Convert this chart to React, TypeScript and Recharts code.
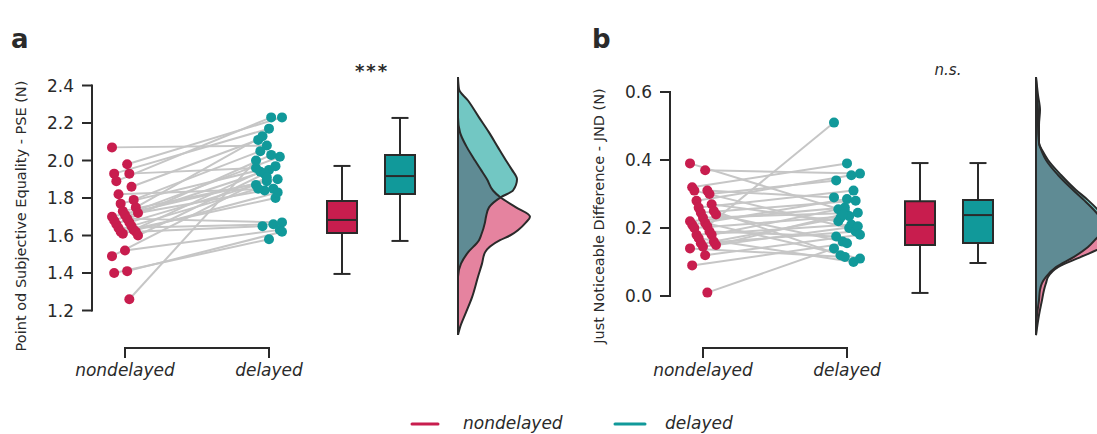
import React from "react";
import {
  ComposedChart,
  Scatter,
  XAxis,
  YAxis,
  ReferenceLine,
  ReferenceArea,
  Curve,
} from "recharts";

const groups = ["nondelayed", "delayed"];

// a) point of subjective equality, one pair per participant
const pseNondelayed = [
  2.07, 1.98, 1.93, 1.93, 1.89, 1.86, 1.82, 1.79, 1.77, 1.75, 1.73, 1.72, 1.71, 1.7, 1.69,
  1.68, 1.67, 1.66, 1.65, 1.64, 1.63, 1.62, 1.62, 1.61, 1.6, 1.52, 1.49, 1.41, 1.4, 1.26,
];
const pseDelayed = [
  2.08, 2.23, 2.17, 1.96, 2.23, 2.11, 1.85, 2.05, 1.97, 2.13, 1.9, 1.84, 2.02, 1.89, 1.67,
  1.95, 1.87, 2.03, 1.85, 1.66, 1.94, 1.8, 1.65, 1.83, 1.93, 1.63, 1.91, 1.62, 1.58, 2.0,
];
const pseTicks = [1.2, 1.4, 1.6, 1.8, 2.0, 2.2, 2.4];
// [lower whisker, Q1, median, Q3, upper whisker]
const pseBoxNondelayed = [1.395, 1.613, 1.683, 1.784, 1.971];
const pseBoxDelayed = [1.571, 1.821, 1.917, 2.029, 2.227];
// density (arbitrary units) sampled at these PSE values
const pseDensityAt = [
  2.445, 2.38, 2.32, 2.23, 2.15, 2.07, 2.0, 1.95, 1.9, 1.84, 1.805, 1.75, 1.7, 1.67, 1.6,
  1.575, 1.51, 1.45, 1.38, 1.27, 1.19, 1.11, 1.07,
];
const pseDensityNondelayed = [
  0, 0, 0, 0, 2, 9, 17, 23, 29, 35, 42, 58, 72, 68, 52, 42, 27, 24, 20, 14, 8, 2, 0,
];
const pseDensityDelayed = [
  0, 1, 10, 21, 31, 40, 48, 54, 59, 55, 43, 31, 28, 27, 23, 21, 10, 3, 0, 0, 0, 0, 0,
];

// b) just noticeable difference
const jndNondelayed = [
  0.39, 0.37, 0.32, 0.31, 0.31, 0.3, 0.28, 0.27, 0.26, 0.25, 0.245, 0.24, 0.23, 0.22, 0.215,
  0.21, 0.205, 0.2, 0.19, 0.18, 0.18, 0.17, 0.16, 0.155, 0.15, 0.145, 0.14, 0.12, 0.09, 0.01,
];
const jndDelayed = [
  0.25, 0.36, 0.39, 0.29, 0.2, 0.34, 0.355, 0.22, 0.31, 0.12, 0.28, 0.16, 0.245, 0.26, 0.11,
  0.285, 0.51, 0.235, 0.175, 0.21, 0.255, 0.1, 0.23, 0.19, 0.24, 0.205, 0.115, 0.18, 0.155, 0.14,
];
const jndTicks = [0.0, 0.2, 0.4, 0.6];
const jndBoxNondelayed = [0.009, 0.15, 0.209, 0.279, 0.391];
const jndBoxDelayed = [0.097, 0.156, 0.238, 0.282, 0.391];
const jndDensityAt = [
  0.644, 0.591, 0.547, 0.503, 0.45, 0.424, 0.4, 0.356, 0.312, 0.282, 0.253, 0.224, 0.194,
  0.174, 0.144, 0.115, 0.085, 0.056, 0.038, 0.018, -0.012, -0.056, -0.115,
];
const jndDensityNondelayed = [
  0, 1, 2, 2, 3, 6, 10, 22, 37, 48, 58, 66, 72, 72, 66, 45, 22, 12, 10, 8, 6, 3, 0,
];
const jndDensityDelayed = [
  0, 2, 4, 3, 3, 7, 12, 25, 40, 52, 62, 69, 70, 62, 52, 38, 20, 10, 6, 4, 3, 1, 0,
];

const RED = "#C81D4E";
const TEAL = "#11999A";
const PINK = "#E5839F";
const LIGHT_TEAL = "#72C7C3";
const OVERLAP = "#5F8B94";
const GRAY = "#C6C6C6";
const INK = "#2a2a2a";
const FONT = '"DejaVu Sans", sans-serif';

// layout (x units = pixels right of the y axis line)
const CHART_W = 560;
const CHART_H = 434;
const AXIS_X = 92; // pixel column of the y axis line
const X_PAD = 2;
const PLOT_TOP = 70;
const PLOT_BOTTOM = 362;
const BRACKET_PX = 348;
const BRACKET_TICK = 10;
const X_AXIS_H = 50;
const GROUP_X = [33, 177];
const BOX_X = [250, 308];
const BOX_HALF = 15;
const CAP_HALF = 8.5;
const VIOLIN_X = 366;
const JITTER = 13;
const PANEL_LEFT = [0, 578];
const PSE_TICK_PX: [number, number] = [310.5, 85.5];
const JND_TICK_PX: [number, number] = [296, 92];

const jitter = (i: number, k: number) => (((i * 7 + k * 5) % 13) / 6 - 1) * JITTER;

const fillCurve = (fill: string) => (props: any) => (
  <Curve points={props.points} type="monotoneY" fill={fill} stroke="none" />
);
const strokeCurve = (props: any) => (
  <Curve points={props.points} type="monotoneY" fill="none" stroke={INK} strokeWidth={2} />
);
const noDot = () => <g />;
const inkLine = { stroke: INK, strokeWidth: 2 };
const tickFont = { fill: INK, fontSize: 17, fontFamily: FONT };
const layer: React.CSSProperties = { position: "absolute", left: 0, top: 0, pointerEvents: "none" };

type PanelProps = {
  left: number;
  ticks: number[];
  tickPx: [number, number];
  yLabel: string;
  nond: number[];
  del: number[];
  boxN: number[];
  boxD: number[];
  densAt: number[];
  densN: number[];
  densD: number[];
};

// y ticks on a plot area that spans exactly first..last tick
function TrimmedYAxis({ ticks, tickPx }: { ticks: number[]; tickPx: [number, number] }) {
  const t0 = ticks[0];
  const t1 = ticks[ticks.length - 1];
  return (
    <div style={layer}>
      <ComposedChart
        width={AXIS_X + 10}
        height={CHART_H}
        margin={{ top: tickPx[1], bottom: CHART_H - tickPx[0], left: 0, right: 0 }}
      >
        <XAxis type="number" dataKey="x" domain={[0, 1]} hide />
        <YAxis
          type="number"
          dataKey="y"
          domain={[t0, t1]}
          ticks={ticks}
          interval={0}
          width={AXIS_X}
          axisLine={inkLine}
          tickSize={10}
          tickMargin={8}
          tickLine={inkLine}
          tick={tickFont}
          tickFormatter={(v) => Number(v).toFixed(1)}
        />
        <Scatter data={[{ x: 0.5, y: t0 }]} shape={noDot} isAnimationActive={false} />
      </ComposedChart>
    </div>
  );
}

// category labels under the bracket
function GroupBracket() {
  const leftPx = AXIS_X + GROUP_X[0];
  const rightPx = AXIS_X + GROUP_X[1];
  return (
    <div style={layer}>
      <ComposedChart
        width={CHART_W}
        height={CHART_H}
        margin={{ top: PLOT_TOP, bottom: CHART_H - BRACKET_PX - X_AXIS_H, left: leftPx, right: CHART_W - rightPx }}
      >
        <XAxis
          type="number"
          dataKey="x"
          domain={[GROUP_X[0], GROUP_X[1]]}
          ticks={GROUP_X}
          interval={0}
          height={X_AXIS_H}
          axisLine={inkLine}
          tickSize={BRACKET_TICK}
          tickMargin={6}
          tickLine={inkLine}
          tick={{ ...tickFont, fontStyle: "italic" }}
          tickFormatter={(v) => groups[GROUP_X.indexOf(v)] ?? ""}
        />
        <YAxis type="number" dataKey="y" domain={[0, 1]} hide />
        <Scatter
          data={GROUP_X.map((x) => ({ x, y: 0.5 }))}
          shape={noDot}
          isAnimationActive={false}
        />
      </ComposedChart>
    </div>
  );
}

function Panel(p: PanelProps) {
  const yAxisW = AXIS_X - X_PAD;
  const plotW = CHART_W - yAxisW;
  const t0 = p.ticks[0];
  const t1 = p.ticks[p.ticks.length - 1];
  const pxPerUnit = (p.tickPx[0] - p.tickPx[1]) / (t1 - t0);
  const yHi = t1 + (p.tickPx[1] - PLOT_TOP) / pxPerUnit;
  const yLo = t0 - (PLOT_BOTTOM - p.tickPx[0]) / pxPerUnit;

  const overlap = p.densN.map((d, i) => Math.min(d, p.densD[i]));
  const curve = (dens: number[]) => p.densAt.map((y, i) => ({ x: VIOLIN_X + dens[i], y }));

  const refLine = { ...inkLine, ifOverflow: "visible" as const };
  const boxes = [
    { cx: BOX_X[0], s: p.boxN, fill: RED },
    { cx: BOX_X[1], s: p.boxD, fill: TEAL },
  ];

  return (
    <div style={{ position: "absolute", left: p.left, top: 0, width: CHART_W, height: CHART_H }}>
      <ComposedChart
        width={CHART_W}
        height={CHART_H}
        margin={{ top: PLOT_TOP, right: 0, left: 0, bottom: CHART_H - PLOT_BOTTOM }}
      >
        <XAxis type="number" dataKey="x" domain={[-X_PAD, plotW - X_PAD]} hide />
        <YAxis
          type="number"
          dataKey="y"
          domain={[yLo, yHi]}
          width={yAxisW}
          axisLine={false}
          tickLine={false}
          tick={false}
          label={{
            value: p.yLabel,
            angle: -90,
            position: "insideLeft",
            offset: 21,
            style: { textAnchor: "middle", fontSize: 14.5, fill: INK, fontFamily: FONT },
          }}
        />

        {/* paired lines */}
        {p.nond.map((v, i) => (
          <Scatter
            key={`pair-${i}`}
            data={[
              { x: GROUP_X[0] + jitter(i, 0), y: v },
              { x: GROUP_X[1] + jitter(i, 1), y: p.del[i] },
            ]}
            line={{ stroke: GRAY, strokeWidth: 2 }}
            shape={noDot}
            isAnimationActive={false}
          />
        ))}
        <Scatter
          data={p.nond.map((y, i) => ({ x: GROUP_X[0] + jitter(i, 0), y }))}
          shape={(s: any) => <circle cx={s.cx} cy={s.cy} r={5} fill={RED} />}
          isAnimationActive={false}
        />
        <Scatter
          data={p.del.map((y, i) => ({ x: GROUP_X[1] + jitter(i, 1), y }))}
          shape={(s: any) => <circle cx={s.cx} cy={s.cy} r={5} fill={TEAL} />}
          isAnimationActive={false}
        />

        {/* box plots */}
        {boxes.map((b, k) => (
          <ReferenceLine
            key={`wu-${k}`}
            segment={[{ x: b.cx, y: b.s[3] }, { x: b.cx, y: b.s[4] }]}
            {...refLine}
          />
        ))}
        {boxes.map((b, k) => (
          <ReferenceLine
            key={`wl-${k}`}
            segment={[{ x: b.cx, y: b.s[0] }, { x: b.cx, y: b.s[1] }]}
            {...refLine}
          />
        ))}
        {boxes.map((b, k) => (
          <ReferenceLine
            key={`cu-${k}`}
            segment={[{ x: b.cx - CAP_HALF, y: b.s[4] }, { x: b.cx + CAP_HALF, y: b.s[4] }]}
            {...refLine}
          />
        ))}
        {boxes.map((b, k) => (
          <ReferenceLine
            key={`cl-${k}`}
            segment={[{ x: b.cx - CAP_HALF, y: b.s[0] }, { x: b.cx + CAP_HALF, y: b.s[0] }]}
            {...refLine}
          />
        ))}
        {boxes.map((b, k) => (
          <ReferenceArea
            key={`box-${k}`}
            x1={b.cx - BOX_HALF}
            x2={b.cx + BOX_HALF}
            y1={b.s[1]}
            y2={b.s[3]}
            fill={b.fill}
            fillOpacity={1}
            stroke={INK}
            strokeWidth={2}
            ifOverflow="visible"
          />
        ))}
        {boxes.map((b, k) => (
          <ReferenceLine
            key={`med-${k}`}
            segment={[{ x: b.cx - BOX_HALF, y: b.s[2] }, { x: b.cx + BOX_HALF, y: b.s[2] }]}
            {...refLine}
          />
        ))}

        {/* half violins */}
        <Scatter data={curve(p.densN)} line={fillCurve(PINK)} shape={noDot} isAnimationActive={false} />
        <Scatter data={curve(p.densD)} line={fillCurve(LIGHT_TEAL)} shape={noDot} isAnimationActive={false} />
        <Scatter data={curve(overlap)} line={fillCurve(OVERLAP)} shape={noDot} isAnimationActive={false} />
        <Scatter data={curve(p.densD)} line={strokeCurve} shape={noDot} isAnimationActive={false} />
        <Scatter data={curve(p.densN)} line={strokeCurve} shape={noDot} isAnimationActive={false} />
        <Scatter
          data={[
            { x: VIOLIN_X, y: p.densAt[0] },
            { x: VIOLIN_X, y: p.densAt[p.densAt.length - 1] },
          ]}
          line={inkLine}
          shape={noDot}
          isAnimationActive={false}
        />
      </ComposedChart>
      <TrimmedYAxis ticks={p.ticks} tickPx={p.tickPx} />
      <GroupBracket />
    </div>
  );
}

// trimmed axis line and group bracket, drawn on top from the layout constants
function AxisFrame({ left, tickPx }: { left: number; tickPx: [number, number] }) {
  const ax = left + AXIS_X;
  const bx0 = ax + GROUP_X[0];
  const bx1 = ax + GROUP_X[1];
  const by = BRACKET_PX;
  const bt = BRACKET_PX + BRACKET_TICK;
  return (
    <g fill="none" stroke={INK} strokeWidth={2}>
      <line x1={ax} x2={ax} y1={tickPx[1] - 1} y2={tickPx[0] + 1} />
      <polyline points={`${bx0},${bt} ${bx0},${by} ${bx1},${by} ${bx1},${bt}`} strokeLinejoin="miter" />
    </g>
  );
}

export default function App() {
  return (
    <div
      style={{
        position: "absolute",
        left: 0,
        top: 0,
        width: 1097,
        height: 434,
        overflow: "hidden",
        background: "#fff",
        fontFamily: FONT,
      }}
    >
      <Panel
        left={PANEL_LEFT[0]}
        ticks={pseTicks}
        tickPx={PSE_TICK_PX}
        yLabel="Point od Subjective Equality - PSE (N)"
        nond={pseNondelayed}
        del={pseDelayed}
        boxN={pseBoxNondelayed}
        boxD={pseBoxDelayed}
        densAt={pseDensityAt}
        densN={pseDensityNondelayed}
        densD={pseDensityDelayed}
      />
      <Panel
        left={PANEL_LEFT[1]}
        ticks={jndTicks}
        tickPx={JND_TICK_PX}
        yLabel="Just Noticeable Difference - JND (N)"
        nond={jndNondelayed}
        del={jndDelayed}
        boxN={jndBoxNondelayed}
        boxD={jndBoxDelayed}
        densAt={jndDensityAt}
        densN={jndDensityNondelayed}
        densD={jndDensityDelayed}
      />
      <svg width={1097} height={434} style={layer} fontFamily={FONT} fill={INK}>
        <AxisFrame left={PANEL_LEFT[0]} tickPx={PSE_TICK_PX} />
        <AxisFrame left={PANEL_LEFT[1]} tickPx={JND_TICK_PX} />
        <text x={11} y={48} fontSize={26} fontWeight="bold">a</text>
        <text x={592} y={48} fontSize={26} fontWeight="bold">b</text>
        <text x={372} y={77} fontSize={18} fontWeight="bold" textAnchor="middle" letterSpacing={2}>***</text>
        <text x={948} y={75} fontSize={15} fontStyle="italic" textAnchor="middle">n.s.</text>
        <line x1={412} x2={438} y1={424} y2={424} stroke={RED} strokeWidth={3} strokeLinecap="round" />
        <text x={463} y={429} fontSize={17} fontStyle="italic">{groups[0]}</text>
        <line x1={615} x2={645} y1={424} y2={424} stroke={TEAL} strokeWidth={3} strokeLinecap="round" />
        <text x={665} y={429} fontSize={17} fontStyle="italic">{groups[1]}</text>
      </svg>
    </div>
  );
}
